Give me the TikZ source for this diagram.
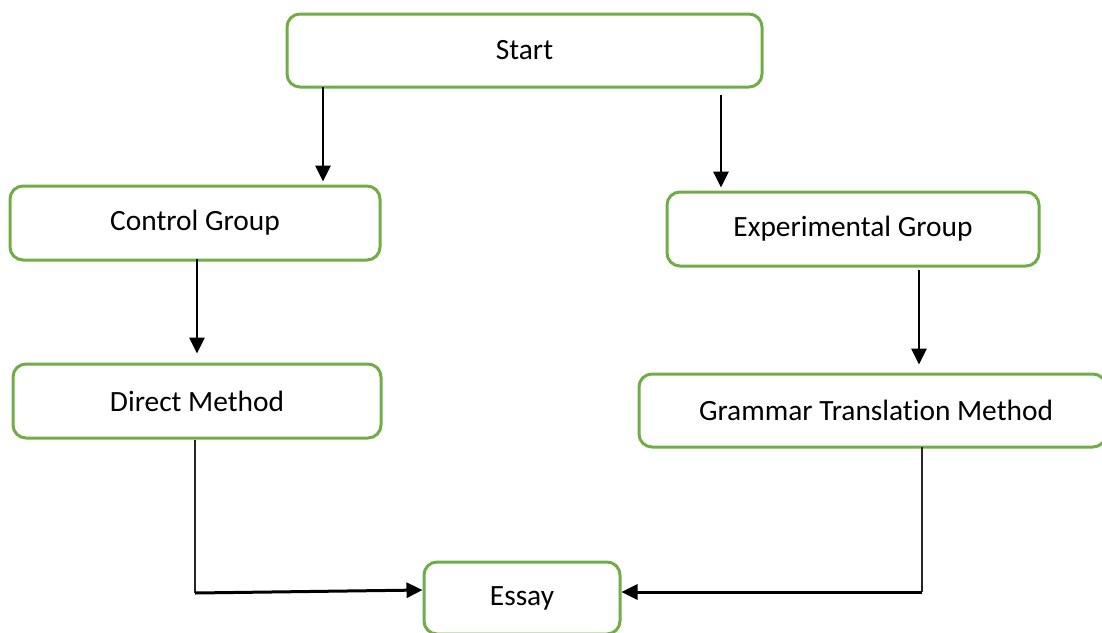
\documentclass[tikz,border=0pt]{standalone}
\usepackage{fontspec}
\setmainfont[Ligatures={NoCommon}]{Carlito}
\usetikzlibrary{arrows.meta}
\definecolor{boxgreen}{HTML}{70AD47}
\begin{document}
\begin{tikzpicture}[x=1pt,y=-1pt,
  box/.style={draw=boxgreen, line width=3pt, rounded corners=13pt, fill=white,
    inner sep=0pt, font=\fontsize{29.4}{34}\selectfont, text=black},
  arr/.style={line width=2.8pt, -{Triangle[width=15pt,length=16pt]}},
  thinline/.style={line width=1.4pt, draw=black!85},
  harr/.style={line width=3pt, -{Triangle[width=15pt,length=16pt]}}]
\useasboundingbox[fill=white] (0,0) rectangle (1102,632);
\node[box, minimum width=475pt, minimum height=73pt] (start) at (524.5,50.5) {Start};
\node[box, minimum width=370pt, minimum height=74pt] (ctl) at (195,223) {Control Group};
\node[box, minimum width=372pt, minimum height=74pt] (exp) at (853,229) {Experimental Group};
\node[box, minimum width=368pt, minimum height=74pt] (dm) at (197,401) {Direct Method};
\node[box, minimum width=467pt, minimum height=73pt] (gtm) at (872.5,410.5) {\hspace*{7pt}Grammar Translation Method};
\node[box, minimum width=196pt, minimum height=72pt] (essay) at (522,598) {Essay};
\draw[arr] ([xshift=-201.5pt,yshift=2pt]start.south) -- ([xshift=128pt,yshift=3pt]ctl.north);
\draw[arr] ([xshift=196.5pt,yshift=-6pt]start.south) -- ([xshift=-132pt,yshift=3pt]exp.north);
\draw[arr] ([xshift=2pt,yshift=3pt]ctl.south) -- ([yshift=9pt]dm.north);
\draw[arr] ([xshift=66pt,yshift=-2pt]exp.south) -- ([xshift=46.5pt,yshift=8pt]gtm.north);
\coordinate (c1) at (195,593);
\coordinate (c2) at (922,592);
\draw[thinline] ([xshift=-2pt]dm.south) -- (c1);
\draw[harr] (c1) -- ([yshift=8pt]essay.west);
\draw[thinline] ([xshift=49.5pt,yshift=2pt]gtm.south) -- (c2);
\draw[harr] (c2) -- ([yshift=6pt]essay.east);
\end{tikzpicture}
\end{document}
